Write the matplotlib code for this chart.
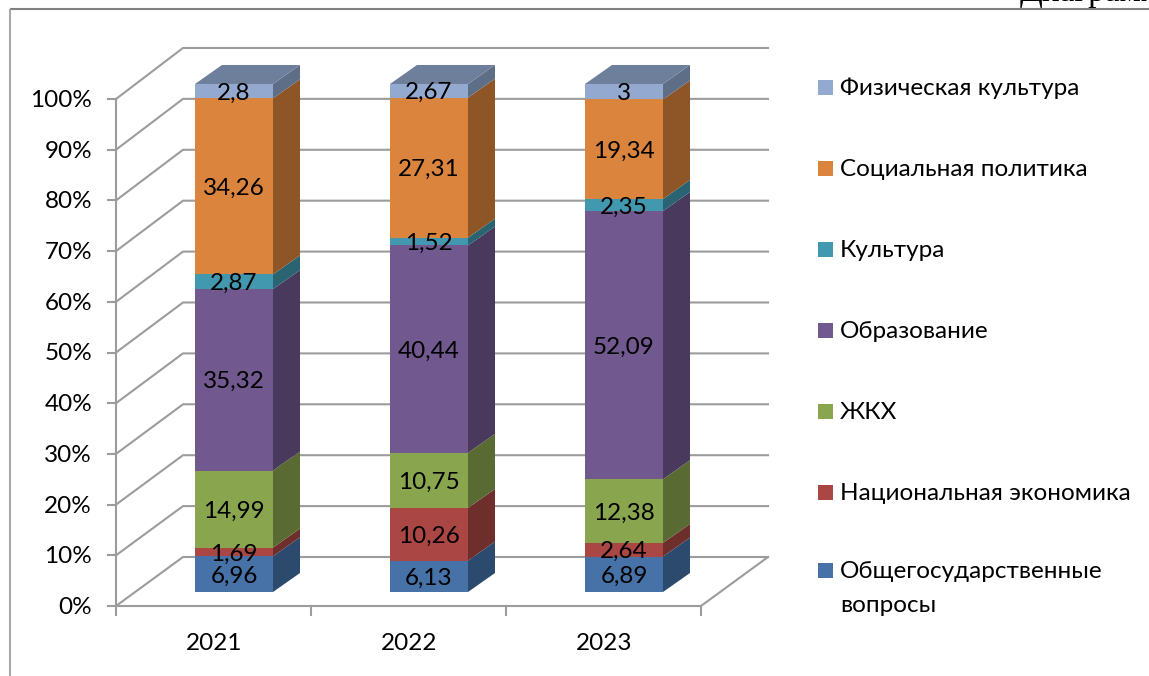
import matplotlib
matplotlib.use('Agg')
import matplotlib.pyplot as plt
import numpy as np
from matplotlib.patches import Rectangle

plt.rcParams['font.family'] = ['Lato', 'Noto Sans', 'DejaVu Sans']

W, H = 1149, 676

years = ['2021', '2022', '2023']
series = ['Общегосударственные\nвопросы', 'Национальная экономика', 'ЖКХ', 'Образование',
          'Культура', 'Социальная политика', 'Физическая культура']
gos = [6.96, 6.13, 6.89]
econ = [1.69, 10.26, 2.64]
zkh = [14.99, 10.75, 12.38]
obr = [35.32, 40.44, 52.09]
kult = [2.87, 1.52, 2.35]
soc = [34.26, 27.31, 19.34]
fiz = [2.8, 2.67, 3]
labels = ['6,96 6,13 6,89', '1,69 10,26 2,64', '14,99 10,75 12,38', '35,32 40,44 52,09',
          '2,87 1,52 2,35', '34,26 27,31 19,34', '2,8 2,67 3']
ticks = [0, 10, 20, 30, 40, 50, 60, 70, 80, 90, 100]

colors = ['#4672A8', '#AA4643', '#89A54E', '#71588F', '#4198AF', '#DB843D', '#93A9CF']
sides = ['#2C4A6E', '#6E2E2C', '#596B32', '#49395D', '#2A6372', '#8E5527', '#5F6E87']
top_color = '#6E7F9C'
grid = '#9C9C9C'
fs = 17.5

# page layer in pixels
fig = plt.figure(figsize=(W / 100, H / 100), dpi=100)
page = fig.add_axes([0, 0, 1, 1])
page.set_xlim(0, W)
page.set_ylim(H, 0)
page.axis('off')

# plot box: front of the 3d box, 116..701 px wide, 99..606 px high
ax_l, ax_r, ax_t, ax_b = 116, 701, 99, 606
ax = fig.add_axes([ax_l / W, 1 - ax_b / H, (ax_r - ax_l) / W, (ax_b - ax_t) / H])
ax.set_xlim(0, 3)
ax.set_ylim(0, 100)
ax.axis('off')
ax.patch.set_alpha(0)
px = 3 / (ax_r - ax_l)
py = 100 / (ax_b - ax_t)

# walls
wall_dx, wall_dy = 67 * px, 49 * py
for t in ticks:
    back = t * 1.004 + wall_dy
    ax.plot([0, wall_dx, 3 + wall_dx], [t, back, back], color=grid, lw=1.5, clip_on=False, zorder=1)
    ax.plot([-8 * px, 0], [t, t], color=grid, lw=1.5, clip_on=False, zorder=1)
ax.plot([0, 3, 3 + wall_dx], [0, 0, wall_dy], color=grid, lw=1.5, clip_on=False, zorder=1)
ax.plot([0, 0], [0, 100], color=grid, lw=1.5, clip_on=False, zorder=1)
for i in range(4):
    ax.plot([i, i], [0, -9 * py], color=grid, lw=1.5, clip_on=False, zorder=1)

# bars
table = np.array([gos, econ, zkh, obr, kult, soc, fiz])
shares = table / table.sum(axis=0) * 100.2
bottoms = np.vstack([np.zeros(3), np.cumsum(shares, axis=0)[:-1]])
off_x, off_y = 20.5 * px, 14 * py
bar_w = 78 * px
dep_x, dep_y = 27 * px, 19 * py
for s in range(len(series)):
    for c in range(3):
        x0 = c + 0.5 + off_x - bar_w / 2
        x1 = x0 + bar_w
        y0 = bottoms[s, c] + off_y
        y1 = y0 + shares[s, c]
        ax.bar(x0, shares[s, c], width=bar_w, bottom=y0, align='edge', color=colors[s], lw=0, zorder=3, clip_on=False)
        ax.fill([x1, x1 + dep_x, x1 + dep_x, x1], [y0, y0 + dep_y, y1 + dep_y, y1],
                color=sides[s], lw=0, zorder=3, clip_on=False)
        if s == len(series) - 1:
            ax.fill([x0, x1, x1 + dep_x, x0 + dep_x], [y1, y1, y1 + dep_y, y1 + dep_y],
                    color=top_color, lw=0, zorder=3, clip_on=False)
        ax.text((x0 + x1) / 2, (y0 + y1) / 2 - 2 * py, labels[s].split()[c], ha='center', va='center',
                fontsize=fs, color='black', zorder=5, clip_on=False)

for t in ticks:
    ax.text(-24 * px, t - 1.5 * py, '%d%%' % t, ha='right', va='center', fontsize=fs, clip_on=False)
for i, y in enumerate(years):
    ax.text(i + 0.5 + 1 * px, -38 * py, y, ha='center', va='center', fontsize=fs, clip_on=False)

# legend, top entry first
leg_y = [87, 168, 249, 330, 411, 492, 570]
for name, col, y in zip(series[::-1], colors[::-1], leg_y):
    page.add_patch(Rectangle((818, y - 7.5), 15, 15, color=col, lw=0))
    first = name.split('\n')
    page.text(840, y + 1.5, first[0], ha='left', va='center', fontsize=fs)
    if len(first) > 1:
        page.text(840, y + 35.5, first[1], ha='left', va='center', fontsize=fs)

# frame and the cut off heading of the page
page.plot([10, W], [9, 9], color='#808080', lw=1.5, solid_capstyle='butt')
page.plot([10, 10], [9, H], color='#A8A8A8', lw=1.5, solid_capstyle='butt')
page.text(1020, 1, 'Диаграмма', family='Liberation Serif', fontsize=24, ha='left', va='baseline')

fig.savefig('out.png', dpi=100)
